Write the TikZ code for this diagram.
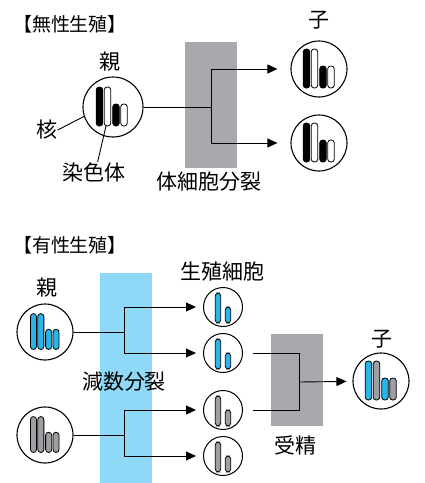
\documentclass[tikz,border=0pt]{standalone}
\usepackage{fontspec}
\newfontfamily\jpfont{Noto Sans CJK JP}
\usetikzlibrary{arrows.meta}

\definecolor{bandgray}{HTML}{A7A9AC}
\definecolor{bandblue}{HTML}{8ED8F8}
\definecolor{chromblue}{HTML}{29B5E8}
\definecolor{chromgray}{HTML}{9D9FA2}

\begin{document}
\begin{tikzpicture}[
  x=1pt, y=-1pt,
  every node/.style={font=\jpfont\fontsize{21}{21}\selectfont, inner sep=0pt},
  title/.style={font=\jpfont\fontsize{19}{19}\selectfont},
  cell/.style={circle, draw, line width=1.1pt, minimum size=56pt},
  gamete/.style={circle, draw, line width=1pt, minimum size=39pt},
  band/.style={rectangle, minimum width=52pt},
  bar/.style={draw, line width=0.8pt, rounded corners=3pt},
  link/.style={line width=0.9pt},
  arrow/.style={link, -{Triangle[length=10pt,width=9pt]}},
  % four chromosomes: two long, two short
  pics/chromo/.style n args={4}{code={
    \draw[bar, fill=#1] (-15.8,-20) rectangle (-9.2,19);
    \draw[bar, fill=#2] (-7.8,-20) rectangle (-1.2,19);
    \draw[bar, fill=#3] (0.7,-3) rectangle (7.3,19);
    \draw[bar, fill=#4] (8.7,-3) rectangle (15.3,19);
  }},
  % one long and one short chromosome
  pics/haploid/.style={code={
    \draw[bar, fill=#1] (-7.7,-14) rectangle (-2.3,16);
    \draw[bar, fill=#1] (2.3,0) rectangle (7.7,16);
  }}
]
  \useasboundingbox (0,0) rectangle (425,483);

  % Asexual reproduction (top)
  \node[title] (asex) at (70,24) {【無性生殖】};
  \node[band, fill=bandgray, minimum height=126pt] (mitosis) at (211,105) {};
  \node (mitosislabel) at (209,182) {体細胞分裂};

  \node[cell, minimum size=60pt] (pa) at (113,107) {};
  \pic at (112,107) {chromo={black}{white}{black}{white}};
  \node (pa-label) at (110,62) {親};
  \node (nucl) at (47,130) {核};
  \node (chrom) at (94,172) {染色体};
  \coordinate (wbar) at (106,126);

  \node[cell] (ca) at (319,69) {};
  \pic at (ca) {chromo={black}{white}{black}{white}};
  \node[cell] (cb) at (319,143) {};
  \pic at (cb) {chromo={black}{white}{black}{white}};
  \node (child-label) at (319,20) {子};

  \coordinate (split1) at (211,107);
  \draw[link] (pa) -- (split1);
  \draw[arrow, shorten >=13pt] (split1) |- (ca);
  \draw[arrow, shorten >=13pt] (split1) |- (cb);
  \draw[link] (nucl.east) -- (pa.198);
  \draw[link] (chrom.70) -- (wbar);

  % Sexual reproduction (bottom)
  \node[title] (sex) at (70,245) {【有性生殖】};
  \node[band, fill=bandblue, minimum height=210pt] (meiosis) at (126,378) {};
  \node (meiosislabel) at (124,382) {減数分裂};
  \node[band, fill=bandgray, minimum height=92pt] (fert) at (297,380) {};
  \node (fertlabel) at (295,445) {受精};

  \node[cell] (pb) at (45,332) {};
  \pic[scale=0.92] at (pb) {chromo={chromblue}{chromblue}{chromblue}{chromblue}};
  \node[cell] (pc) at (45,435) {};
  \pic[scale=0.92] at (pc) {chromo={chromgray}{chromgray}{chromgray}{chromgray}};
  \node (pb-label) at (47,288) {親};

  \node[gamete] (g1) at (223,307) {};
  \pic at (g1) {haploid=chromblue};
  \node[gamete] (g2) at (223,353) {};
  \pic at (g2) {haploid=chromblue};
  \node[gamete] (g3) at (223,410) {};
  \pic at (g3) {haploid=chromgray};
  \node[gamete] (g4) at (223,456) {};
  \pic at (g4) {haploid=chromgray};
  \node (gam-label) at (222,272) {生殖細胞};

  \node[cell] (cc) at (381,381) {};
  \pic at (cc) {chromo={chromblue}{chromgray}{chromblue}{chromgray}};
  \node (cc-label) at (382,339) {子};

  \coordinate (split2) at (124,332);
  \coordinate (split3) at (124,435);
  \draw[link] (pb) -- (split2);
  \draw[arrow, shorten >=7pt] (split2) |- (g1);
  \draw[arrow, shorten >=7pt] (split2) |- (g2);
  \draw[link] (pc) -- (split3);
  \draw[arrow, shorten >=7pt] (split3) |- (g3);
  \draw[arrow, shorten >=7pt] (split3) |- (g4);

  \coordinate (join) at (299,382);
  \draw[link, shorten <=10pt] (g2) -| (join);
  \draw[link, shorten <=10pt] (g3) -| (join);
  \draw[arrow, shorten >=6pt] (join) -- (cc);
\end{tikzpicture}
\end{document}
